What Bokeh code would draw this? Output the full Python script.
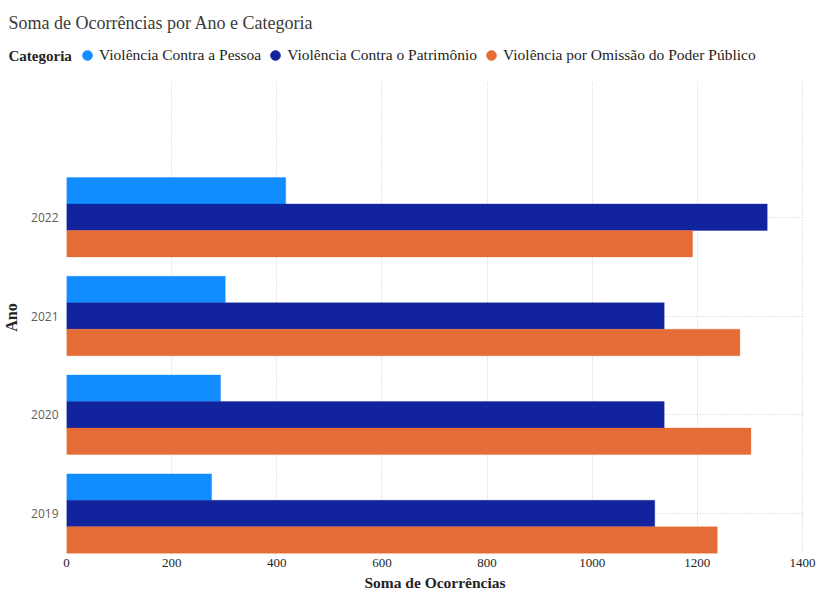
from bokeh.plotting import figure
from bokeh.layouts import column
from bokeh.models import ColumnDataSource, Range1d, FixedTicker, Legend, LegendItem, Label
from bokeh.transform import dodge
from bokeh.embed import file_html
from bokeh.resources import INLINE

anos = ["2019", "2020", "2021", "2022"]
pessoa = [276, 293, 302, 417]
patrimonio = [1119, 1137, 1137, 1333]
omissao = [1238, 1302, 1281, 1191]
categorias = ["Violência Contra a Pessoa", "Violência Contra o Patrimônio",
              "Violência por Omissão do Poder Público"]
cores = ["#118DFF", "#12239E", "#E66C37"]
x_ticks = [0, 200, 400, 600, 800, 1000, 1200, 1400]

pos = list(range(len(anos)))
src = ColumnDataSource(dict(y=pos, pessoa=pessoa, patrimonio=patrimonio, omissao=omissao))

SERIF = "Liberation Serif"
W = 819
HEAD_H = 80
MAIN_H = 593 - HEAD_H

# ---------------- header: title + legend ----------------
head = figure(width=W, height=HEAD_H, output_backend="svg", toolbar_location=None,
              x_range=Range1d(0, W), y_range=Range1d(0, HEAD_H),
              x_axis_type=None, y_axis_type=None,
              min_border_left=0, min_border_right=0, min_border_top=0, min_border_bottom=0)
head.frame_align = False
head.outline_line_color = None
head.xgrid.visible = False
head.ygrid.visible = False

head.add_layout(Label(x=8, y=HEAD_H - 22, text="Soma de Ocorrências por Ano e Categoria",
                      text_font=SERIF, text_font_size="18px", text_color="#3b3b3b",
                      text_baseline="middle"))
head.add_layout(Label(x=8, y=HEAD_H - 55, text="Categoria",
                      text_font=SERIF, text_font_style="bold", text_font_size="15px",
                      text_color="#252423", text_baseline="middle"))

dots = []
for c in cores:
    d = head.scatter(x=[float("nan")], y=[float("nan")], marker="circle", size=10,
                     fill_color=c, line_color=c)
    dots.append(d)

legend = Legend(items=[LegendItem(label=l, renderers=[d]) for l, d in zip(categorias, dots)],
                orientation="horizontal", location=(75, HEAD_H - 55 - 12),
                label_text_font=SERIF, label_text_font_size="15.5px", label_text_color="#252423",
                glyph_width=24, glyph_height=24, label_standoff=-4, spacing=2,
                padding=0, margin=0, border_line_color=None, background_fill_alpha=0)
head.add_layout(legend, "center")

# ---------------- main chart ----------------
p = figure(width=W, height=MAIN_H, output_backend="svg", toolbar_location=None,
           x_range=Range1d(0, 1402), y_range=Range1d(-0.414, 4.384),
           min_border_left=66, min_border_right=16, min_border_top=0, min_border_bottom=38)
p.frame_align = False
p.outline_line_color = None
p.background_fill_color = "white"

h = 0.268
keys = ["pessoa", "patrimonio", "omissao"]
offs = [h, 0, -h]
for k, o, c in zip(keys, offs, cores):
    p.hbar(y=dodge("y", o), right=k, left=0, height=h, source=src,
           fill_color=c, line_color=c, line_alpha=0.35, line_width=1)

p.xaxis.ticker = FixedTicker(ticks=x_ticks)
p.xaxis.axis_line_color = None
p.xaxis.major_tick_line_color = None
p.xaxis.minor_tick_line_color = None
p.xaxis.major_tick_out = 0
p.xaxis.major_label_text_font = SERIF
p.xaxis.major_label_text_font_size = "13px"
p.xaxis.major_label_text_color = "#252423"
p.xaxis.major_label_standoff = 4
p.xaxis.axis_label = "Soma de Ocorrências"
p.xaxis.axis_label_text_font = SERIF
p.xaxis.axis_label_text_font_style = "bold"
p.xaxis.axis_label_text_font_size = "15.5px"
p.xaxis.axis_label_text_color = "#252423"
p.xaxis.axis_label_standoff = 4

p.yaxis.ticker = FixedTicker(ticks=pos)
p.yaxis.major_label_overrides = {i: a for i, a in zip(pos, anos)}
p.yaxis.axis_line_color = None
p.yaxis.major_tick_line_color = None
p.yaxis.minor_tick_line_color = None
p.yaxis.major_tick_out = 0
p.yaxis.major_label_text_font = "Open Sans"
p.yaxis.major_label_text_font_size = "12px"
p.yaxis.major_label_text_color = "#605E5C"
p.yaxis.major_label_standoff = 8
p.yaxis.axis_label = "Ano"
p.yaxis.axis_label_text_font = SERIF
p.yaxis.axis_label_text_font_style = "bold"
p.yaxis.axis_label_text_font_size = "16px"
p.yaxis.axis_label_text_color = "#252423"
p.yaxis.axis_label_standoff = 8

for g in (p.xgrid, p.ygrid):
    g.grid_line_color = "#CFCDCB"
    g.grid_line_dash = "1 2"
    g.grid_line_width = 1

layout = column(head, p, spacing=0)
open("out.html", "w").write(file_html(layout, INLINE))
